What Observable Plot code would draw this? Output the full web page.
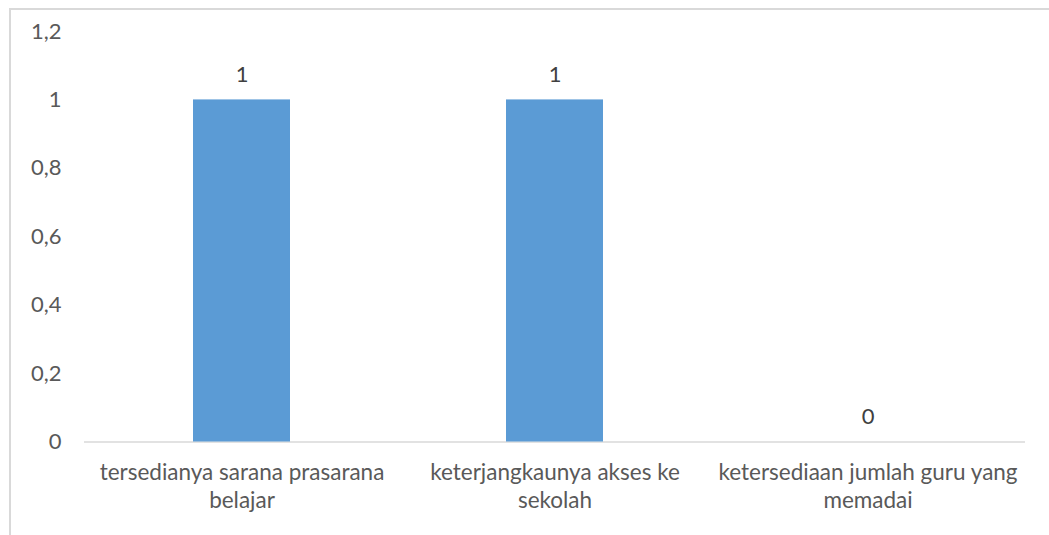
<!DOCTYPE html>
<html>
<head>
<meta charset="utf-8">
<script src="https://cdn.jsdelivr.net/npm/d3@7"></script>
<script src="https://cdn.jsdelivr.net/npm/@observablehq/plot@0.6"></script>
<style>
  html, body { margin: 0; padding: 0; background: #fff; overflow: hidden; }
  #wrap { position: relative; width: 1049px; height: 535px; }
  #frame { position: absolute; left: 9px; top: 8px; width: 1060px; height: 600px; border: 2px solid #d9d9d9; box-sizing: border-box; pointer-events: none; }
</style>
</head>
<body>
<div id="wrap"><div id="frame"></div><div id="chart"></div></div>
<script>
const categories = ["tersedianya sarana prasarana belajar", "keterjangkaunya akses ke sekolah", "ketersediaan jumlah guru yang memadai"];
const tickLabels = ["tersedianya sarana prasarana\nbelajar", "keterjangkaunya akses ke\nsekolah", "ketersediaan jumlah guru yang\nmemadai"];
const values = [1, 1, 0];
const yTicks = [0, 0.2, 0.4, 0.6, 0.8, 1, 1.2];

const data = categories.map((c, i) => ({category: c, value: values[i]}));
const labelOf = new Map(categories.map((c, i) => [c, tickLabels[i]]));
const fmt = d => String(Math.round(d * 10) / 10).replace(".", ",");

const chart = Plot.plot({
  width: 1049,
  height: 535,
  marginLeft: 84,
  marginRight: 24,
  marginTop: 31,
  marginBottom: 93.5,
  style: {fontFamily: "Lato, 'Open Sans', sans-serif", fontSize: "22.5px", color: "#595959", background: "transparent"},
  x: {domain: categories, padding: 0},
  y: {domain: [0, 1.2]},
  marks: [
    Plot.ruleY([0], {stroke: "#d9d9d9", strokeWidth: 1.5}),
    Plot.barY(data, {x: "category", y: "value", fill: "#5b9bd5", insetLeft: 108, insetRight: 108}),
    Plot.text(data, {x: "category", y: "value", text: d => fmt(d.value), dy: -25, fill: "#404040", fontSize: 22}),
    Plot.axisY({ticks: yTicks, tickFormat: fmt, tickSize: 0, tickPadding: 23, label: null, fontSize: 22, fill: "#595959"}),
    Plot.axisX({tickSize: 0, tickPadding: 18, tickFormat: d => labelOf.get(d), label: null, lineHeight: 1.25, fontSize: 22.5, fill: "#595959"})
  ]
});
document.getElementById("chart").appendChild(chart);
</script>
</body>
</html>
